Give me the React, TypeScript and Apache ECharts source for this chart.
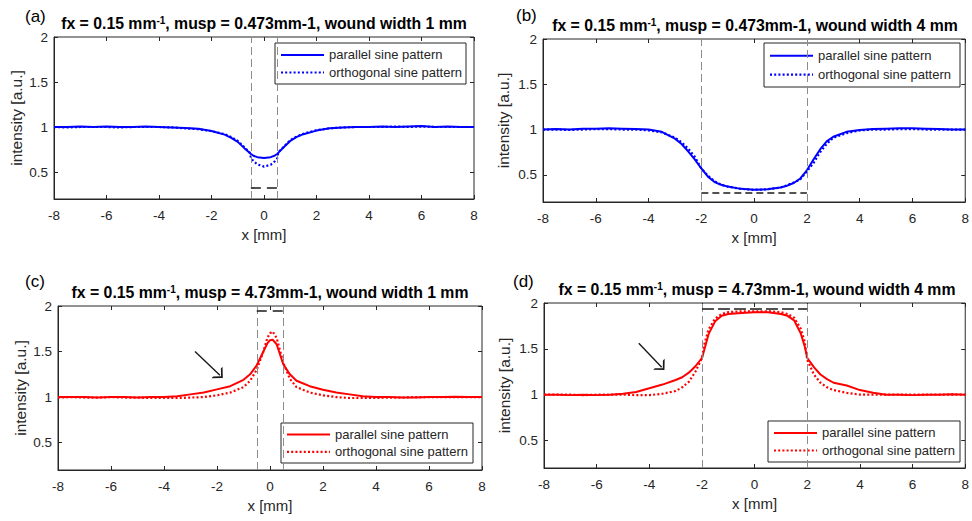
import React, { useEffect, useRef } from "react";
import * as echarts from "echarts";

// ---------- data ----------
const xA = [-8, -7.5, -7, -6.5, -6, -5.5, -5, -4.5, -4, -3.5, -3, -2.5, -2, -1.5, -1.25, -1, -0.75, -0.55, -0.5, -0.4, -0.25, 0, 0.25, 0.4, 0.5, 0.55, 0.75, 1, 1.25, 1.5, 2, 2.5, 3, 3.5, 4, 4.5, 5, 5.5, 6, 6.5, 7, 7.5, 8];
const parA = [1.0, 1.0, 1.005, 1.0, 1.005, 1.0, 1.0, 1.005, 1.0, 0.995, 0.99, 0.98, 0.955, 0.915, 0.88, 0.835, 0.765, 0.715, 0.70, 0.68, 0.665, 0.655, 0.665, 0.68, 0.70, 0.715, 0.775, 0.845, 0.89, 0.92, 0.96, 0.985, 0.995, 1.0, 1.0, 1.005, 1.0, 1.005, 1.01, 1.0, 1.005, 1.0, 1.0];
const ortA = [1.0, 0.995, 1.0, 1.0, 1.0, 0.995, 1.0, 1.0, 1.0, 0.995, 0.985, 0.975, 0.955, 0.92, 0.89, 0.845, 0.775, 0.72, 0.66, 0.62, 0.585, 0.56, 0.58, 0.615, 0.65, 0.72, 0.78, 0.855, 0.895, 0.925, 0.965, 0.985, 0.995, 1.0, 1.0, 1.0, 1.005, 1.0, 1.005, 1.0, 1.0, 1.0, 1.0];

const xB = [-8, -7.5, -7, -6.5, -6, -5.5, -5, -4.5, -4, -3.5, -3, -2.75, -2.5, -2.25, -2, -1.75, -1.5, -1.25, -1, -0.5, 0, 0.5, 1, 1.25, 1.5, 1.75, 2, 2.25, 2.5, 2.75, 3, 3.5, 4, 4.5, 5, 5.5, 6, 6.5, 7, 7.5, 8];
const parB = [1.0, 1.005, 1.0, 1.01, 1.01, 1.015, 1.01, 1.005, 1.0, 0.975, 0.9, 0.84, 0.76, 0.67, 0.57, 0.48, 0.42, 0.39, 0.37, 0.345, 0.335, 0.34, 0.36, 0.38, 0.41, 0.46, 0.55, 0.67, 0.78, 0.87, 0.92, 0.975, 0.995, 1.005, 1.01, 1.015, 1.015, 1.01, 1.005, 1.0, 1.0];
const ortB = [1.0, 1.0, 0.995, 1.0, 1.005, 1.005, 1.0, 1.0, 0.99, 0.97, 0.91, 0.86, 0.79, 0.7, 0.57, 0.49, 0.43, 0.39, 0.37, 0.345, 0.335, 0.34, 0.36, 0.385, 0.415, 0.45, 0.54, 0.63, 0.75, 0.84, 0.91, 0.96, 0.99, 1.0, 1.0, 1.005, 1.005, 1.0, 1.0, 1.0, 1.0];

const xC = [-8, -7.5, -7, -6.5, -6, -5.5, -5, -4.5, -4, -3.5, -3, -2.5, -2, -1.5, -1, -0.75, -0.5, -0.25, -0.1, 0, 0.1, 0.25, 0.5, 0.75, 1, 1.5, 2, 2.5, 3, 3.5, 4, 4.5, 5, 5.5, 6, 6.5, 7, 7.5, 8];
const parC = [1.0, 1.0, 1.0, 0.995, 1.0, 1.0, 0.995, 1.0, 1.0, 1.01, 1.03, 1.05, 1.085, 1.12, 1.19, 1.25, 1.35, 1.5, 1.59, 1.625, 1.63, 1.58, 1.36, 1.25, 1.18, 1.12, 1.08, 1.05, 1.03, 1.01, 1.0, 1.0, 0.995, 0.995, 1.0, 1.0, 1.005, 1.0, 1.0];
const ortC = [0.995, 1.0, 0.995, 0.995, 1.0, 0.995, 0.995, 0.99, 0.99, 0.99, 0.995, 1.0, 1.02, 1.05, 1.11, 1.18, 1.3, 1.5, 1.65, 1.7, 1.72, 1.65, 1.38, 1.2, 1.11, 1.05, 1.02, 1.0, 0.99, 0.99, 0.99, 0.995, 0.995, 1.0, 1.0, 1.0, 1.0, 1.0, 1.0];

const xD = [-8, -7.5, -7, -6.5, -6, -5.5, -5, -4.5, -4, -3.5, -3, -2.75, -2.5, -2.25, -2, -1.9, -1.75, -1.5, -1.25, -1, -0.5, 0, 0.5, 1, 1.25, 1.5, 1.75, 1.9, 2, 2.25, 2.5, 2.75, 3, 3.5, 4, 4.5, 5, 5.5, 6, 6.5, 7, 7.5, 8];
const parD = [1.0, 1.0, 0.995, 1.0, 0.995, 1.0, 1.01, 1.03, 1.07, 1.11, 1.16, 1.19, 1.24, 1.31, 1.4, 1.5, 1.66, 1.8, 1.86, 1.88, 1.89, 1.9, 1.9, 1.88, 1.86, 1.81, 1.67, 1.53, 1.4, 1.3, 1.22, 1.17, 1.13, 1.1, 1.05, 1.02, 1.0, 1.0, 0.995, 1.0, 1.0, 1.005, 1.0];
const ortD = [1.0, 1.0, 1.0, 0.995, 1.0, 1.0, 1.0, 0.995, 0.995, 1.01, 1.04, 1.08, 1.14, 1.25, 1.4, 1.56, 1.71, 1.83, 1.88, 1.9, 1.91, 1.91, 1.91, 1.9, 1.88, 1.84, 1.72, 1.58, 1.38, 1.22, 1.13, 1.08, 1.05, 1.02, 1.0, 1.0, 1.0, 1.0, 1.0, 1.0, 1.0, 1.0, 1.0];

const woundHalf = [0.5, 2, 0.5, 2];
const barY = [0.33, 0.3, 1.945, 1.94];
const arrowC = [[-2.83, 1.5], [-1.89, 1.24]];
const arrowD = [[-4.4, 1.56], [-3.53, 1.3]];

const yTicks = [0.5, 1, 1.5, 2];
const seriesNames = ["parallel sine pattern", "orthogonal sine pattern"];
const panelLabels = ["(a)", "(b)", "(c)", "(d)"];
const titleMusp = ["0.473", "0.473", "4.73", "4.73"];
const titleWidth = ["1", "4", "1", "4"];

// ---------- layout ----------
const grids = [
  { left: 54, top: 37, width: 420, height: 162 },
  { left: 543, top: 39, width: 423, height: 163 },
  { left: 58, top: 306, width: 424, height: 164 },
  { left: 544, top: 303, width: 426, height: 165 },
];
const titlePos = [[264, 23], [755, 25], [270, 292], [757, 289]];
const labelPos = [[25, 16], [516, 15], [25, 281], [513, 281]];
const legendBoxes = [
  { x: 275, y: 43, w: 191, h: 41 },
  { x: 764, y: 43, w: 196, h: 44 },
  { x: 281, y: 423, w: 192, h: 40 },
  { x: 768, y: 421, w: 192, h: 41 },
];
const dashPatterns = [[10, 6], [7, 4], [10, 6], [12, 4]];

const FONT = "'Liberation Sans', Arial, Helvetica, sans-serif";
const AX = "#262626";
const CHEVRON = "path://M0,10 L10,0 L20,10 L17,10 L10,3 L3,10 Z";

export default function App() {
  const ref = useRef<HTMLDivElement>(null);
  useEffect(() => {
    if (!ref.current) return;
    const chart = echarts.init(ref.current, null, { renderer: "svg" });
    const xs = [xA, xB, xC, xD];
    const pars = [parA, parB, parC, parD];
    const orts = [ortA, ortB, ortC, ortD];
    const colors = ["#0000ff", "#0000ff", "#ff0000", "#ff0000"];

    const xAxis: any[] = [];
    const yAxis: any[] = [];
    const series: any[] = [];
    const graphic: any[] = [];

    grids.forEach((g, i) => {
      xAxis.push({
        type: "value", gridIndex: i, min: -8, max: 8, interval: 2, position: "bottom",
        name: "x [mm]", nameLocation: "middle", nameGap: 28,
        nameTextStyle: { fontSize: 15, color: AX, fontFamily: FONT },
        axisLine: { show: true, onZero: false, lineStyle: { color: AX } },
        axisTick: { show: true, inside: true, length: 4, lineStyle: { color: AX } },
        axisLabel: { fontSize: 13.5, color: AX, fontFamily: FONT, margin: 9 },
        splitLine: { show: false },
      });
      xAxis.push({
        type: "value", gridIndex: i, min: -8, max: 8, interval: 2, position: "top",
        axisLine: { show: false, onZero: false },
        axisTick: { show: true, inside: true, length: 4, lineStyle: { color: AX } },
        axisLabel: { show: false }, splitLine: { show: false },
      });
      yAxis.push({
        type: "value", gridIndex: i, min: 0.2, max: 2, position: "left",
        name: "intensity [a.u.]", nameLocation: "middle", nameGap: i % 2 === 0 ? 30 : 32,
        nameTextStyle: { fontSize: 15.5, color: AX, fontFamily: FONT },
        axisLine: { show: true, onZero: false, lineStyle: { color: AX } },
        axisTick: { show: true, inside: true, length: 4, lineStyle: { color: AX }, customValues: yTicks },
        axisLabel: { fontSize: 13.5, color: AX, fontFamily: FONT, margin: 6, customValues: yTicks },
        splitLine: { show: false },
      });
      yAxis.push({
        type: "value", gridIndex: i, min: 0.2, max: 2, position: "right",
        axisLine: { show: false, onZero: false },
        axisTick: { show: true, inside: true, length: 4, lineStyle: { color: AX }, customValues: yTicks },
        axisLabel: { show: false, customValues: yTicks }, splitLine: { show: false },
      });

      const w = woundHalf[i];
      const mlData: any[] = [
        { xAxis: -w, lineStyle: { color: "#8c8c8c", type: [8, 4], width: 1 } },
        { xAxis: w, lineStyle: { color: "#8c8c8c", type: [8, 4], width: 1 } },
        [
          { coord: [-w, barY[i]], lineStyle: { color: "#1a1a1a", type: dashPatterns[i], width: 1.6 } },
          { coord: [w, barY[i]] },
        ],
      ];
      const arrow = i === 2 ? arrowC : i === 3 ? arrowD : null;
      if (arrow) {
        mlData.push([
          { coord: arrow[0], symbol: "none", lineStyle: { color: "#1a1a1a", type: "solid", width: 1.4 } },
          { coord: arrow[1], symbol: CHEVRON, symbolSize: [16, 8] },
        ]);
      }

      series.push({
        type: "line", name: seriesNames[0], xAxisIndex: 2 * i, yAxisIndex: 2 * i,
        data: xs[i].map((x, k) => [x, pars[i][k]]),
        showSymbol: false, symbol: "none",
        lineStyle: { color: colors[i], width: 2 },
        itemStyle: { color: colors[i] },
        silent: true, z: 3,
        markLine: {
          silent: true, symbol: ["none", "none"], label: { show: false },
          data: mlData,
        },
      });
      series.push({
        type: "line", name: seriesNames[1], xAxisIndex: 2 * i, yAxisIndex: 2 * i,
        data: xs[i].map((x, k) => [x, orts[i][k]]),
        showSymbol: false, symbol: "none",
        lineStyle: { color: colors[i], width: 2.2, type: [2, 2.2] },
        itemStyle: { color: colors[i] },
        silent: true, z: 2,
      });

      // titles
      graphic.push({
        type: "text", x: titlePos[i][0], y: titlePos[i][1],
        style: {
          text: `fx = 0.15 mm{s|-1}, musp = ${titleMusp[i]}mm-1, wound width ${titleWidth[i]} mm`,
          align: "center", verticalAlign: "middle",
          fontSize: 15.8, fontWeight: "bold", fontFamily: FONT, fill: "#000",
          rich: {
            s: { fontSize: 10, fontWeight: "bold", fontFamily: FONT, verticalAlign: "top", fill: "#000" },
          },
        },
      });
      graphic.push({
        type: "text", x: labelPos[i][0], y: labelPos[i][1],
        style: { text: panelLabels[i], fontSize: 17, fontFamily: FONT, fill: "#000", verticalAlign: "middle" },
      });
      // legend box
      const b = legendBoxes[i];
      graphic.push({
        type: "group", x: b.x, y: b.y,
        children: [
          { type: "rect", shape: { x: 0, y: 0, width: b.w, height: b.h }, style: { fill: "#fff", stroke: AX, lineWidth: 1 } },
          { type: "line", shape: { x1: 6, y1: b.h * 0.29, x2: 49, y2: b.h * 0.29 }, style: { stroke: colors[i], lineWidth: 2 } },
          { type: "line", shape: { x1: 6, y1: b.h * 0.72, x2: 49, y2: b.h * 0.72 }, style: { stroke: colors[i], lineWidth: 2.2, lineDash: [2, 2.2] } },
          { type: "text", x: 54, y: b.h * 0.29, style: { text: seriesNames[0], fontSize: 13, fontFamily: FONT, fill: AX, verticalAlign: "middle" } },
          { type: "text", x: 54, y: b.h * 0.72, style: { text: seriesNames[1], fontSize: 13, fontFamily: FONT, fill: AX, verticalAlign: "middle" } },
        ],
        z: 100,
      });
    });

    chart.setOption({
      animation: false,
      backgroundColor: "#fff",
      grid: grids.map((g) => ({ ...g, show: true, borderColor: AX, borderWidth: 1, backgroundColor: "transparent" })),
      xAxis, yAxis, series, graphic,
    });
    return () => chart.dispose();
  }, []);
  return <div ref={ref} style={{ position: "fixed", left: 0, top: 0, width: 972, height: 521 }} />;
}
